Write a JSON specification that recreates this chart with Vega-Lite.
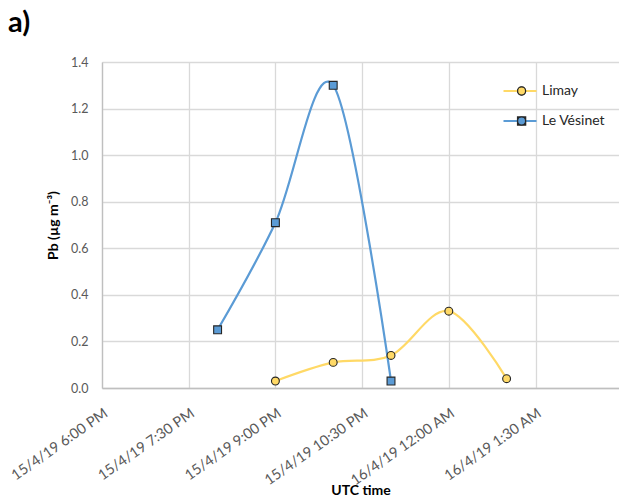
{
  "$schema": "https://vega.github.io/schema/vega-lite/v6.json",
  "width": 517,
  "height": 326,
  "autosize": "none",
  "padding": {"left": 102, "top": 62, "right": 0, "bottom": 116},
  "background": "white",
  "config": {
    "font": "Lato",
    "view": {"stroke": null},
    "axis": {
      "gridColor": "#d9d9d9",
      "gridWidth": 1.3,
      "domainColor": "#bfbfbf",
      "domainWidth": 1.3,
      "ticks": false,
      "labelColor": "#595959",
      "labelFontSize": 12.5,
      "labelFont": "Lato",
      "titleFont": "Lato",
      "titleFontSize": 14,
      "titleFontWeight": "bold",
      "titleColor": "#000000"
    }
  },
  "title": {
    "text": "a)",
    "anchor": "start",
    "frame": "group",
    "dx": -94,
    "offset": 18,
    "fontSize": 29,
    "fontWeight": "bold",
    "font": "Lato",
    "color": "#000000"
  },
  "data": {
    "values": [
      {"series": "Limay", "time": "2019-04-15T21:00:00Z", "pb": 0.03},
      {"series": "Limay", "time": "2019-04-15T22:00:00Z", "pb": 0.11},
      {"series": "Limay", "time": "2019-04-15T23:00:00Z", "pb": 0.14},
      {"series": "Limay", "time": "2019-04-16T00:00:00Z", "pb": 0.33},
      {"series": "Limay", "time": "2019-04-16T01:00:00Z", "pb": 0.04},
      {"series": "Le Vésinet", "time": "2019-04-15T20:00:00Z", "pb": 0.25},
      {"series": "Le Vésinet", "time": "2019-04-15T21:00:00Z", "pb": 0.71},
      {"series": "Le Vésinet", "time": "2019-04-15T22:00:00Z", "pb": 1.30},
      {"series": "Le Vésinet", "time": "2019-04-15T23:00:00Z", "pb": 0.03}
    ]
  },
  "encoding": {
    "x": {
      "field": "time",
      "type": "temporal",
      "title": "UTC time",
      "scale": {
        "type": "utc",
        "domain": [
          {"year": 2019, "month": 4, "date": 15, "hours": 18, "utc": true},
          {"year": 2019, "month": 4, "date": 16, "hours": 2, "minutes": 56, "seconds": 40, "utc": true}
        ],
        "nice": false
      },
      "axis": {
        "values": [
          {"year": 2019, "month": 4, "date": 15, "hours": 18, "minutes": 0, "utc": true},
          {"year": 2019, "month": 4, "date": 15, "hours": 19, "minutes": 30, "utc": true},
          {"year": 2019, "month": 4, "date": 15, "hours": 21, "minutes": 0, "utc": true},
          {"year": 2019, "month": 4, "date": 15, "hours": 22, "minutes": 30, "utc": true},
          {"year": 2019, "month": 4, "date": 16, "hours": 0, "minutes": 0, "utc": true},
          {"year": 2019, "month": 4, "date": 16, "hours": 1, "minutes": 30, "utc": true}
        ],
        "labelExpr": "utcFormat(datum.value, '%-d/%-m/%y %-I:%M %p')",
        "labelAngle": -35,
        "labelFontSize": 14.5,
        "labelPadding": 18,
        "titleY": 95,
        "titleBaseline": "top",
        "labelFlush": false,
        "labelOverlap": false
      }
    },
    "y": {
      "field": "pb",
      "type": "quantitative",
      "title": "Pb (µg m⁻³)",
      "scale": {"domain": [0, 1.4], "nice": false},
      "axis": {
        "values": [0, 0.2, 0.4, 0.6, 0.8, 1.0, 1.2, 1.4],
        "format": ".1f",
        "labelPadding": 14,
        "titlePadding": 10
      }
    }
  },
  "layer": [
    {
      "mark": {"type": "line", "interpolate": "cardinal", "tension": 0, "strokeWidth": 2.2},
      "encoding": {
        "stroke": {
          "field": "series",
          "type": "nominal",
          "scale": {"domain": ["Limay", "Le Vésinet"], "range": ["#FFD966", "#5B9BD5"]},
          "legend": {
            "orient": "none",
            "legendX": 400,
            "legendY": 14,
            "title": null,
            "symbolType": "stroke",
            "symbolSize": 1089,
            "symbolStrokeWidth": 2.2,
            "clipHeight": 30,
            "rowPadding": 0,
            "labelFontSize": 14,
            "labelColor": "#262626",
            "labelFont": "Lato",
            "labelOffset": 4
          }
        }
      }
    },
    {
      "mark": {"type": "point", "filled": true, "size": 62, "stroke": "#262626", "strokeWidth": 1.1, "opacity": 1},
      "encoding": {
        "fill": {
          "field": "series",
          "type": "nominal",
          "sort": ["Limay", "Le Vésinet"],
          "scale": {"range": ["#FFD966", "#5B9BD5"]},
          "legend": {
            "orient": "none",
            "legendX": 412.6,
            "legendY": 14,
            "title": null,
            "symbolSize": 62,
            "symbolStrokeColor": "#262626",
            "symbolStrokeWidth": 1.1,
            "symbolOpacity": 1,
            "clipHeight": 30,
            "rowPadding": 0,
            "labelOpacity": 0,
            "labelFontSize": 14
          }
        },
        "shape": {
          "field": "series",
          "type": "nominal",
          "sort": ["Limay", "Le Vésinet"],
          "scale": {"range": ["circle", "square"]},
          "legend": {
            "orient": "none",
            "legendX": 412.6,
            "legendY": 14,
            "title": null,
            "symbolSize": 62,
            "clipHeight": 30,
            "rowPadding": 0,
            "labelOpacity": 0,
            "labelFontSize": 14
          }
        }
      }
    }
  ]
}
